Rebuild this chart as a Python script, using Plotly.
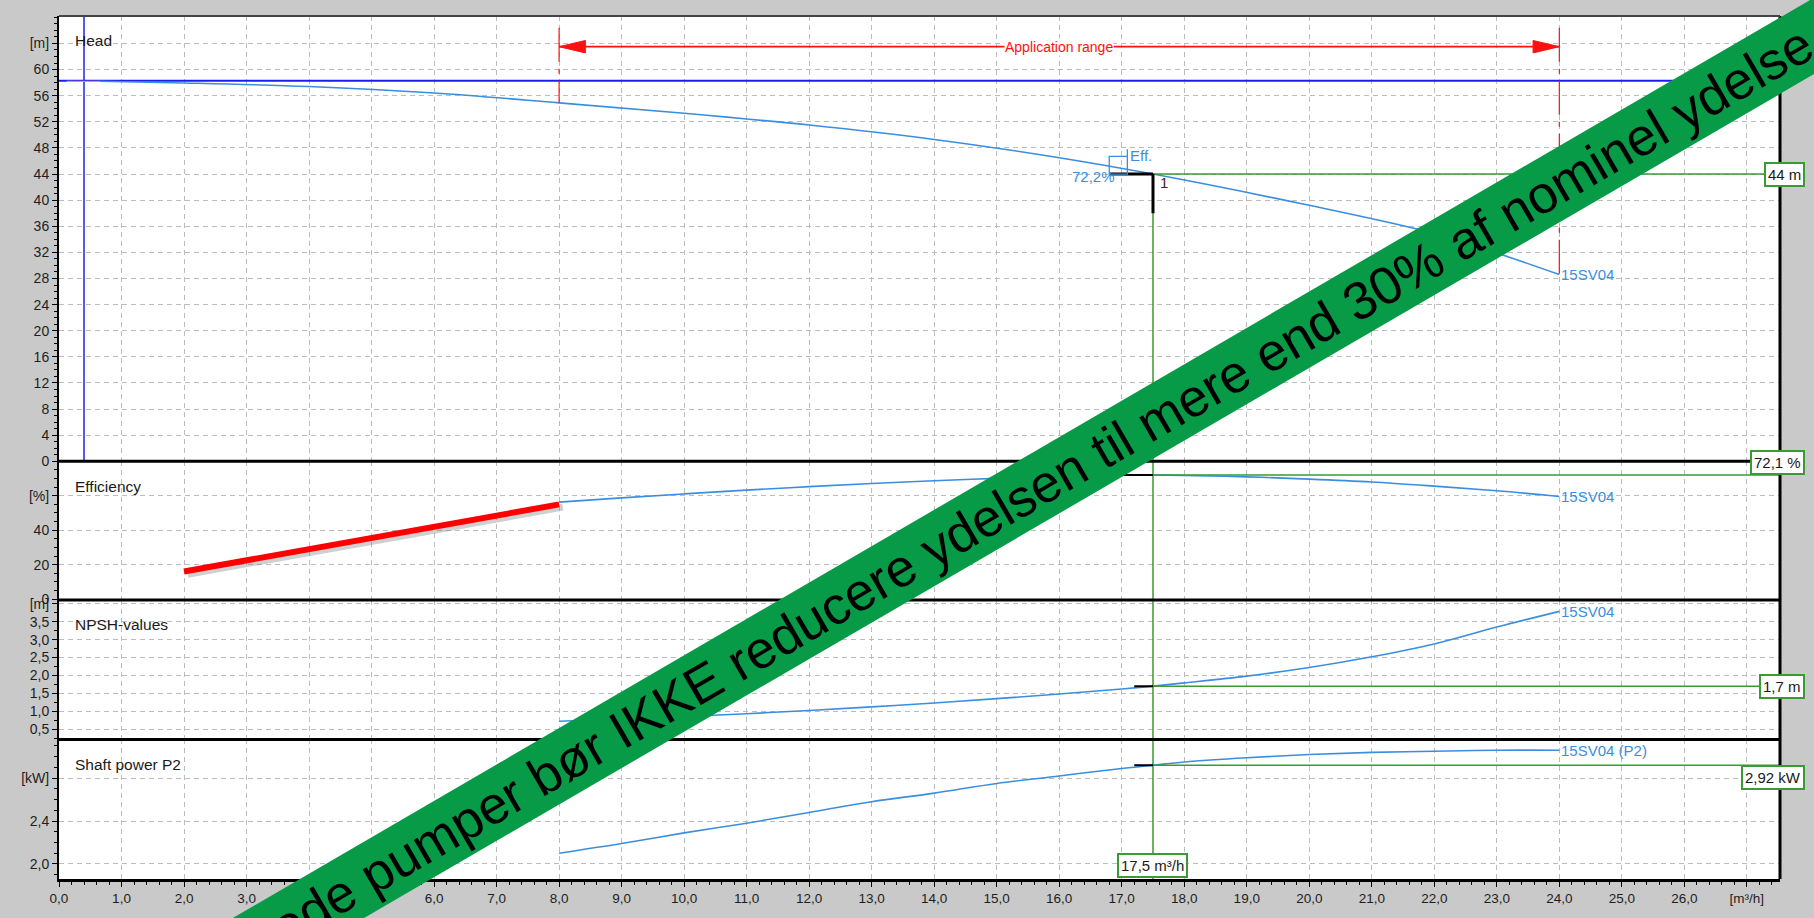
import plotly.graph_objects as go
from plotly.subplots import make_subplots

# ---- 15SV04 pump characteristics (flow in m³/h) ----
head_q = [0.66, 2, 4, 6, 8, 10, 12, 14, 16, 17.5, 19.9, 22, 23, 24]
head_m = [58.2, 57.95, 57.4, 56.4, 54.9, 53.3, 51.5, 49.3, 46.5, 44.0, 39.4, 34.9, 31.9, 28.6]

eff_q = [8, 9, 10, 11, 12, 13, 14, 15, 16, 16.8, 17.5, 18, 19, 20, 21, 22, 23, 24]
eff_pct = [56.3, 58.8, 61.1, 63.3, 65.3, 67.1, 68.7, 70.1, 71.3, 72.2, 72.1, 71.8, 71.0, 69.7, 68.0, 65.6, 62.9, 59.6]

npsh_q = [8, 9, 10, 11, 12, 13, 14, 15, 16, 17, 17.5, 18, 19, 20, 21, 22, 23, 24]
npsh_m = [0.72, 0.78, 0.85, 0.93, 1.02, 1.12, 1.23, 1.35, 1.48, 1.62, 1.70, 1.79, 1.98, 2.22, 2.52, 2.88, 3.35, 3.79]

power_q = [8, 9, 10, 11, 12, 13, 14, 15, 16, 17, 17.5, 18, 19, 20, 21, 22, 23, 24]
power_kw = [2.10, 2.19, 2.29, 2.38, 2.48, 2.58, 2.66, 2.75, 2.82, 2.89, 2.92, 2.95, 2.99, 3.02, 3.04, 3.05, 3.06, 3.06]

pump_name = "15SV04"

# duty point and best efficiency point
duty_q = 17.5
duty_head = 44
duty_eff = 72.1
duty_npsh = 1.7
duty_power = 2.92
bep_q = 16.8
bep_eff = 72.2

# shut-off head line, vertical reference line, application range
shutoff_head = 58.3
ref_line_q = 0.4
app_range = [8, 24]
app_arrow_head = 63.5

# hand-drawn emphasis stroke in the efficiency panel
stroke_q = [2.0, 8.0]
stroke_eff = [16, 55]

# axis ranges
x_range = [0, 27.53]
head_range = [0, 68.2]
eff_range = [-0.5, 80]
npsh_range = [0.21, 4.11]
power_range = [1.86, 3.16]

# tick labels
x_ticks = list(range(0, 28))
x_ticktext = [f"{v},0" for v in range(0, 27)] + ["[m³/h]"]
head_ticks = list(range(0, 65, 4))
head_ticktext = [str(v) for v in range(0, 61, 4)] + ["[m]"]
eff_ticks = [0, 20, 40, 60]
eff_ticktext = ["0", "20", "40", "[%]"]
npsh_ticks = [0.5, 1.0, 1.5, 2.0, 2.5, 3.0, 3.5, 4.0]
npsh_ticktext = ["0,5", "1,0", "1,5", "2,0", "2,5", "3,0", "3,5", "[m]"]
power_ticks = [2.0, 2.4, 2.8]
power_ticktext = ["2,0", "2,4", "[kW]"]

# ---- styling ----
CURVE = "#3a8ee0"
GREEN = "#3a9a34"
RED = "#ff1010"
GRID = "#bdbdbd"
FONT = "Liberation Sans, Arial, sans-serif"

W, H = 1814, 918
ML, MR, MT, MB = 59, 34, 13, 33
plot_w = W - ML - MR
plot_h = H - MT - MB

fig = make_subplots(rows=4, cols=1, shared_xaxes=True, vertical_spacing=0,
                    row_heights=[450, 140, 141, 141])

# head panel
fig.add_trace(go.Scatter(x=x_range, y=[shutoff_head] * 2, mode="lines",
                         line=dict(color="#1c1cf0", width=2)), row=1, col=1)
fig.add_trace(go.Scatter(x=[ref_line_q] * 2, y=head_range, mode="lines",
                         line=dict(color="#2222ee", width=1.5)), row=1, col=1)
fig.add_trace(go.Scatter(x=[x_range[0] + 0.12, head_q[0]], y=[head_m[0]] * 2, mode="lines",
                         line=dict(color="#ff99d6", width=1)), row=1, col=1)
fig.add_trace(go.Scatter(x=head_q, y=head_m, mode="lines", line_shape="spline",
                         line=dict(color=CURVE, width=1.6)), row=1, col=1)

# application range markers
for q, h in zip(app_range, [head_m[head_q.index(app_range[0])], head_m[-1]]):
    fig.add_trace(go.Scatter(x=[q, q], y=[head_range[1] - 1.8, h], mode="lines",
                             line=dict(color=RED, width=1.2, dash="34px,7px,5px,7px")), row=1, col=1)
fig.add_trace(go.Scatter(x=app_range, y=[app_arrow_head] * 2, mode="lines",
                         line=dict(color=RED, width=1.8)), row=1, col=1)
arrow_len, arrow_half = 0.42, 0.95
for tip, d in [(app_range[0], 1), (app_range[1], -1)]:
    fig.add_trace(go.Scatter(
        x=[tip, tip + d * arrow_len, tip + d * arrow_len, tip],
        y=[app_arrow_head, app_arrow_head + arrow_half, app_arrow_head - arrow_half, app_arrow_head],
        mode="lines", fill="toself", fillcolor=RED, line=dict(color=RED, width=1)), row=1, col=1)

# efficiency panel
fig.add_trace(go.Scatter(x=eff_q, y=eff_pct, mode="lines", line_shape="spline",
                         line=dict(color=CURVE, width=1.6)), row=2, col=1)
fig.add_trace(go.Scatter(x=[q + 0.06 for q in stroke_q], y=[e - 1.6 for e in stroke_eff], mode="lines",
                         line=dict(color="rgba(120,120,120,0.35)", width=7)), row=2, col=1)
fig.add_trace(go.Scatter(x=stroke_q, y=stroke_eff, mode="lines",
                         line=dict(color="#ff0000", width=6)), row=2, col=1)

# NPSH panel
fig.add_trace(go.Scatter(x=npsh_q, y=npsh_m, mode="lines", line_shape="spline",
                         line=dict(color=CURVE, width=1.6)), row=3, col=1)

# shaft power panel
fig.add_trace(go.Scatter(x=power_q, y=power_kw, mode="lines", line_shape="spline",
                         line=dict(color=CURVE, width=1.6)), row=4, col=1)

# duty point guide lines
panels = [("y", duty_head), ("y2", duty_eff), ("y3", duty_npsh), ("y4", duty_power)]
for i, (yr, val) in enumerate(panels):
    xr = "x" if i == 0 else f"x{i + 1}"
    fig.add_shape(type="line", xref=xr, yref=yr, x0=duty_q, x1=x_range[1], y0=val, y1=val,
                  line=dict(color=GREEN, width=1.5))
    if i == 0:
        fig.add_shape(type="line", xref=xr, yref=yr, x0=duty_q, x1=duty_q, y0=head_range[0], y1=val,
                      line=dict(color=GREEN, width=1.5))
    else:
        fig.add_shape(type="line", xref=xr, yref=f"{yr} domain", x0=duty_q, x1=duty_q, y0=0, y1=1,
                      line=dict(color=GREEN, width=1.5))

# black duty markers
fig.add_shape(type="line", xref="x", yref="y", x0=bep_q, x1=duty_q, y0=duty_head, y1=duty_head,
              line=dict(color="black", width=3))
fig.add_shape(type="line", xref="x", yref="y", x0=duty_q, x1=duty_q, y0=duty_head, y1=duty_head - 6,
              line=dict(color="black", width=3))
fig.add_shape(type="line", xref="x2", yref="y2", x0=duty_q - 0.95, x1=duty_q, y0=duty_eff, y1=duty_eff,
              line=dict(color="black", width=2))
fig.add_shape(type="line", xref="x3", yref="y3", x0=duty_q - 0.3, x1=duty_q, y0=duty_npsh, y1=duty_npsh,
              line=dict(color="black", width=2))
fig.add_shape(type="line", xref="x4", yref="y4", x0=duty_q - 0.3, x1=duty_q, y0=duty_power, y1=duty_power,
              line=dict(color="black", width=2))

# best-efficiency marker box
fig.add_shape(type="rect", xref="x", yref="y", x0=bep_q, x1=bep_q + 0.29, y0=duty_head, y1=duty_head + 2.7,
              line=dict(color=CURVE, width=1.3), fillcolor="rgba(0,0,0,0)")
fig.add_shape(type="line", xref="x", yref="y", x0=bep_q + 0.29, x1=bep_q + 0.29, y0=duty_head + 2.7,
              y1=duty_head + 3.8, line=dict(color=CURVE, width=1.3))

# panel frame lines
doms = [fig.layout.yaxis.domain, fig.layout.yaxis2.domain, fig.layout.yaxis3.domain, fig.layout.yaxis4.domain]
for d in doms[:-1]:
    fig.add_shape(type="line", xref="paper", yref="paper", x0=0, x1=1, y0=d[0], y1=d[0],
                  line=dict(color="black", width=3))
fig.add_shape(type="line", xref="paper", yref="paper", x0=1, x1=1, y0=0, y1=1,
              line=dict(color="black", width=3))
fig.add_shape(type="line", xref="paper", yref="paper", x0=0, x1=1, y0=1, y1=1,
              line=dict(color="#444444", width=2))

# ---- text ----
def ann(**kw):
    base = dict(showarrow=False, font=dict(family=FONT, size=15, color="#1a1a1a"))
    base.update(kw)
    fig.add_annotation(**base)

titles = ["Head", "Efficiency", "NPSH-values", "Shaft power P2"]
for i, t in enumerate(titles):
    yr = "y domain" if i == 0 else f"y{i + 1} domain"
    off = 25 / (450 if i == 0 else 140)
    ann(text=t, xref="paper", yref=yr, x=14 / plot_w, y=1 - off, xanchor="left", yanchor="middle",
        font=dict(family=FONT, size=15.5, color="#1a1a1a"))

# curve end labels
ann(text=pump_name, xref="x", yref="y", x=head_q[-1], y=head_m[-1], xanchor="left", yanchor="middle",
    font=dict(family=FONT, size=15, color=CURVE))
ann(text=pump_name, xref="x2", yref="y2", x=eff_q[-1], y=eff_pct[-1], xanchor="left", yanchor="middle",
    font=dict(family=FONT, size=15, color=CURVE))
ann(text=pump_name, xref="x3", yref="y3", x=npsh_q[-1], y=npsh_m[-1], xanchor="left", yanchor="middle",
    font=dict(family=FONT, size=15, color=CURVE))
ann(text=pump_name + " (P2)", xref="x4", yref="y4", x=power_q[-1], y=power_kw[-1], xanchor="left",
    yanchor="middle", font=dict(family=FONT, size=15, color=CURVE))

# best efficiency labels
ann(text="Eff.", xref="x", yref="y", x=bep_q + 0.3, y=duty_head + 2.9, xanchor="left", yanchor="middle",
    font=dict(family=FONT, size=15, color=CURVE))
ann(text=f"{bep_eff:.1f}%".replace(".", ","), xref="x", yref="y", x=bep_q + 0.12, y=duty_head - 0.4,
    xanchor="right", yanchor="middle", font=dict(family=FONT, size=15, color=CURVE))
ann(text="1", xref="x", yref="y", x=duty_q + 0.08, y=duty_head - 1.3, xanchor="left", yanchor="middle",
    font=dict(family=FONT, size=15, color="#4a2222"))

# application range caption
ann(text="Application range", xref="x", yref="y", x=sum(app_range) / 2, y=app_arrow_head,
    xanchor="center", yanchor="middle", bgcolor="white", borderpad=0,
    font=dict(family=FONT, size=14, color=RED))

# duty value boxes
box = dict(bgcolor="white", bordercolor=GREEN, borderwidth=2, borderpad=2)
right_x = (1805 - ML) / plot_w
ann(text=f"{duty_head} m", xref="paper", yref="y", x=right_x, y=duty_head, xanchor="right",
    yanchor="middle", **box)
ann(text=f"{duty_eff} %".replace(".", ","), xref="paper", yref="y2", x=right_x, y=duty_eff,
    xanchor="right", yanchor="bottom", **box)
ann(text=f"{duty_npsh} m".replace(".", ","), xref="paper", yref="y3", x=right_x, y=duty_npsh,
    xanchor="right", yanchor="middle", **box)
ann(text=f"{duty_power} kW".replace(".", ","), xref="paper", yref="y4", x=right_x, y=duty_power,
    xanchor="right", yanchor="top", **box)
ann(text=f"{duty_q} m³/h".replace(".", ","), xref="x4", yref="y4 domain", x=duty_q, y=0.005,
    xanchor="center", yanchor="bottom", **box)

# diagonal message banner
banner = "Selv gode pumper bør IKKE reducere ydelsen til mere end 30% af nominel ydelse"
pad = "\u00a0" * 30
fig.add_annotation(text=pad + banner + pad, xref="paper", yref="paper", x=0.534, y=0.413,
                   xanchor="center", yanchor="middle", showarrow=False, textangle=-30.2,
                   bgcolor="#079b47", borderpad=3,
                   font=dict(family=FONT, size=53, color="black"))

# ---- axes ----
xtickfont = dict(family=FONT, size=13.5, color="#1e1e1e")
ytickfont = dict(family=FONT, size=14, color="#1e1e1e")
grid = dict(showgrid=True, gridcolor=GRID, gridwidth=1, griddash="5px,4px", zeroline=False)

for i in range(1, 5):
    fig.update_xaxes(row=i, col=1, range=x_range, tickmode="array", tickvals=x_ticks,
                     ticktext=x_ticktext, showticklabels=(i == 4), showline=(i == 4),
                     linecolor="black", linewidth=3, ticks="outside" if i == 4 else "",
                     ticklen=5, tickcolor="black", tickfont=xtickfont,
                     minor=dict(dtick=0.2, ticks="outside" if i == 4 else "", ticklen=3,
                                tickcolor="black", showgrid=False),
                     **grid)

yspecs = [
    (head_range, head_ticks, head_ticktext, 1),
    (eff_range, eff_ticks, eff_ticktext, 5),
    (npsh_range, npsh_ticks, npsh_ticktext, 0.25),
    (power_range, power_ticks, power_ticktext, 0.1),
]
for i, (rng, tv, tt, mdt) in enumerate(yspecs, start=1):
    fig.update_yaxes(row=i, col=1, range=rng, tickmode="array", tickvals=tv, ticktext=tt,
                     showline=True, linecolor="black", linewidth=2, ticks="outside", ticklen=5,
                     tickcolor="black", tickfont=ytickfont,
                     minor=dict(dtick=mdt, tick0=0, ticks="outside", ticklen=3, tickcolor="black",
                                showgrid=False),
                     **grid)

fig.update_layout(
    width=W, height=H,
    margin=dict(l=ML, r=MR, t=MT, b=MB),
    paper_bgcolor="#c9c9c9",
    plot_bgcolor="white",
    showlegend=False,
    hovermode=False,
    font=dict(family=FONT),
)

fig.write_html("out.html")
